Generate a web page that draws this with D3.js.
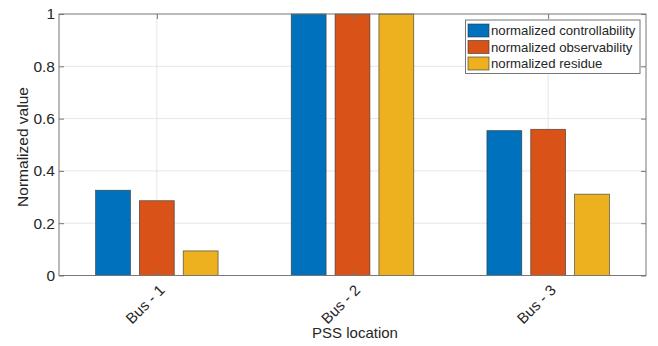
<!DOCTYPE html>
<html lang="en">
  <head>
    <meta charset="utf-8" />
    <title>PSS location chart</title>
    <script src="https://d3js.org/d3.v7.min.js"></script>
    <style>
      body { margin: 0; background: #fff; }
      text { font-family: "Liberation Sans", Arial, sans-serif; fill: #262626; }
    </style>
  </head>
  <body>
    <svg width="658" height="346" id="chart"></svg>
    <script>
      const categories = ["Bus - 1", "Bus - 2", "Bus - 3"];
      const seriesNames = ["normalized controllability", "normalized observability", "normalized residue"];
      const controllability = [0.326, 1, 0.554];
      const observability = [0.286, 1, 0.559];
      const residue = [0.094, 1, 0.311];
      const yTicks = [0, 0.2, 0.4, 0.6, 0.8, 1];

      const series = [controllability, observability, residue];
      const colors = ["#0072BD", "#D95319", "#EDB120"];

      const plot = { left: 59, right: 646, top: 14, bottom: 275.5 };
      const svg = d3.select("#chart");

      const x = d3.scaleLinear().domain([0.5, 3.5]).range([plot.left, plot.right]);
      const y = d3.scaleLinear().domain([0, 1]).range([plot.bottom, plot.top]);
      const barW = 0.178, offset = 0.224;

      // grid
      svg.append("g").selectAll("line.hg").data(yTicks.slice(1, -1)).enter().append("line")
        .attr("x1", plot.left).attr("x2", plot.right)
        .attr("y1", d => y(d)).attr("y2", d => y(d))
        .attr("stroke", "#e6e6e6").attr("stroke-width", 1);
      svg.append("g").selectAll("line.vg").data(categories).enter().append("line")
        .attr("x1", (d, i) => x(i + 1)).attr("x2", (d, i) => x(i + 1))
        .attr("y1", plot.top).attr("y2", plot.bottom)
        .attr("stroke", "#e6e6e6").attr("stroke-width", 1);

      // bars
      series.forEach((vals, s) => {
        svg.append("g").selectAll("rect").data(vals).enter().append("rect")
          .attr("x", (d, i) => x(i + 1 + (s - 1) * offset - barW / 2))
          .attr("width", x(barW) - x(0))
          .attr("y", d => y(d))
          .attr("height", d => y(0) - y(d))
          .attr("fill", colors[s])
          .attr("stroke", "#333")
          .attr("stroke-opacity", 0.75)
          .attr("stroke-width", 0.8);
      });

      // axes box
      const axisColor = "#777";
      svg.append("rect")
        .attr("x", plot.left).attr("y", plot.top)
        .attr("width", plot.right - plot.left).attr("height", plot.bottom - plot.top)
        .attr("fill", "none").attr("stroke", axisColor).attr("stroke-width", 1);

      const yAxis = d3.axisLeft(y).tickValues(yTicks).tickSize(-5).tickPadding(4)
        .tickFormat(d => d3.format("~g")(d));
      svg.append("g").attr("transform", `translate(${plot.left},0)`).call(yAxis)
        .call(g => g.select(".domain").remove())
        .call(g => g.selectAll("line").attr("stroke", axisColor))
        .call(g => g.selectAll("text").style("font-size", "15.5px").attr("fill", "#262626"));
      svg.append("g").attr("transform", `translate(${plot.right},0)`)
        .call(d3.axisRight(y).tickValues(yTicks).tickSize(-5).tickFormat(""))
        .call(g => g.select(".domain").remove())
        .call(g => g.selectAll("line").attr("stroke", axisColor));

      const xAxis = d3.axisBottom(x).tickValues([1, 2, 3]).tickSize(-5).tickFormat("");
      svg.append("g").attr("transform", `translate(0,${plot.bottom})`).call(xAxis)
        .call(g => g.select(".domain").remove())
        .call(g => g.selectAll("line").attr("stroke", axisColor));
      svg.append("g").attr("transform", `translate(0,${plot.top})`)
        .call(d3.axisTop(x).tickValues([1, 2, 3]).tickSize(-5).tickFormat(""))
        .call(g => g.select(".domain").remove())
        .call(g => g.selectAll("line").attr("stroke", axisColor));

      svg.append("g").selectAll("text").data(categories).enter().append("text")
        .attr("transform", (d, i) => `translate(${x(i + 1) + 5},${plot.bottom + 12}) rotate(-45)`)
        .attr("text-anchor", "end")
        .attr("dy", "0.35em")
        .style("font-size", "15px")
        .text(d => d);

      svg.append("text")
        .attr("x", 355).attr("y", 338)
        .attr("text-anchor", "middle").style("font-size", "15px")
        .text("PSS location");
      svg.append("text")
        .attr("transform", `translate(28,147) rotate(-90)`)
        .attr("text-anchor", "middle").style("font-size", "15.5px")
        .text("Normalized value");

      // legend
      const lg = svg.append("g").attr("transform", "translate(465.5,20)");
      lg.append("rect").attr("width", 174.5).attr("height", 53.5)
        .attr("fill", "#fff").attr("stroke", "#777").attr("stroke-width", 1);
      seriesNames.forEach((name, s) => {
        lg.append("rect").attr("x", 2.5).attr("y", 4 + s * 16.5).attr("width", 21).attr("height", 13)
          .attr("fill", colors[s]).attr("stroke", "#333").attr("stroke-opacity", 0.75).attr("stroke-width", 0.8);
        lg.append("text").attr("x", 25.5).attr("y", 10.5 + s * 16.5).attr("dy", "0.35em")
          .style("font-size", "13.2px").text(name);
      });
    </script>
  </body>
</html>
